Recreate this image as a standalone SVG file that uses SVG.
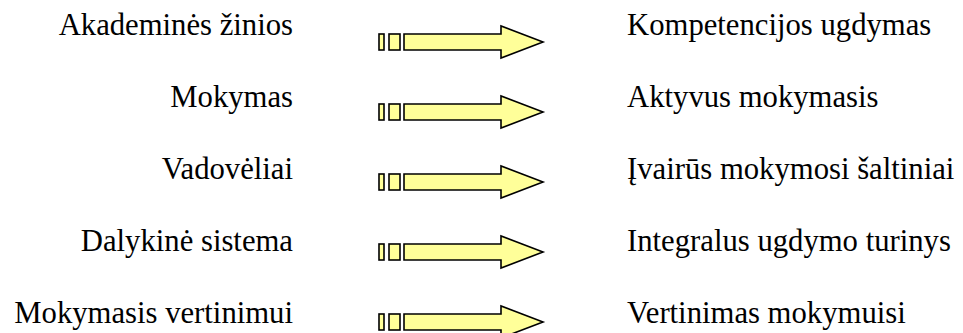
<svg xmlns="http://www.w3.org/2000/svg" xmlns:xlink="http://www.w3.org/1999/xlink" width="963" height="333" viewBox="0 0 963 333">
<style>
.t{font-family:"Liberation Serif","Times New Roman",serif;font-size:30.7px;fill:#000}
.l{text-anchor:end}
.r{text-anchor:start}
.a{fill:#ffff99;stroke:#000;stroke-width:1.6;stroke-linejoin:miter}
</style>
<defs>
<g id="arrow">
<rect class="a" x="379" y="-8" width="5" height="16"/>
<rect class="a" x="389" y="-8" width="11" height="16"/>
<polygon class="a" points="404,-8 501,-8 501,-16 543,0 501,16 501,8 404,8"/>
</g>
</defs>
<rect width="963" height="333" fill="#fff"/>
<g id="n1"><text class="t l" x="293" y="35">Akademinės žinios</text></g>
<g id="n2"><text class="t l" x="293" y="107">Mokymas</text></g>
<g id="n3"><text class="t l" x="293" y="179">Vadovėliai</text></g>
<g id="n4"><text class="t l" x="293" y="251">Dalykinė sistema</text></g>
<g id="n5"><text class="t l" x="293" y="323">Mokymasis vertinimui</text></g>
<g id="m1"><text class="t r" x="627" y="35">Kompetencijos ugdymas</text></g>
<g id="m2"><text class="t r" x="627" y="107">Aktyvus mokymasis</text></g>
<g id="m3"><text class="t r" x="627" y="179">Įvairūs mokymosi šaltiniai</text></g>
<g id="m4"><text class="t r" x="627" y="251">Integralus ugdymo turinys</text></g>
<g id="m5"><text class="t r" x="627" y="323">Vertinimas mokymuisi</text></g>
<g id="connectors">
<use xlink:href="#arrow" href="#arrow" transform="translate(0,42)"/>
<use xlink:href="#arrow" href="#arrow" transform="translate(0,112)"/>
<use xlink:href="#arrow" href="#arrow" transform="translate(0,182)"/>
<use xlink:href="#arrow" href="#arrow" transform="translate(0,252)"/>
<use xlink:href="#arrow" href="#arrow" transform="translate(0,322)"/>
</g>
</svg>
